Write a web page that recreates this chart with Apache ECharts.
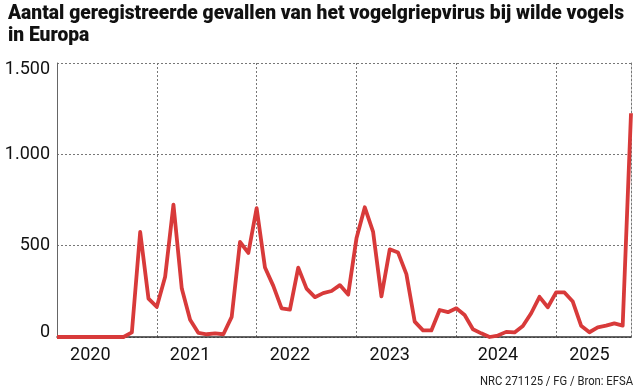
<!DOCTYPE html>
<html>
<head>
<meta charset="utf-8">
<script src="https://cdn.jsdelivr.net/npm/echarts@6/dist/echarts.min.js"></script>
<style>html,body{margin:0;padding:0;background:#fff;}#c{width:640px;height:392px;}</style>
</head>
<body>
<div id="c"></div>
<script>
// Monthly cases, Jan 2020 .. Oct 2025
const months = [];
for (let y = 2020; y <= 2025; y++) for (let m = 1; m <= 12; m++) months.push(y + '-' + (m < 10 ? '0' + m : m));
const categories = months.slice(0, 70);
const values = [
  0, 0, 0, 0, 0, 0, 0, 0, 0, 25, 575, 210,
  165, 330, 725, 265, 95, 22, 15, 20, 15, 110, 520, 460,
  705, 380, 280, 157, 150, 380, 265, 218, 240, 252, 284, 232,
  540, 710, 575, 222, 480, 462, 344, 84, 36, 36, 148, 136,
  157, 120, 42, 20, 0, 8, 28, 25, 60, 130, 220, 163,
  244, 244, 194, 62, 26, 53, 62, 75, 62, 1225
];
const yearLabelIdx = [4, 16, 28, 40, 53, 64];
const yTicks = [0, 500, 1000, 1500];
const yTickText = ['0', '500', '1.000', '1.500'];
const titleLine1 = 'Aantal geregistreerde gevallen van het vogelgriepvirus bij wilde vogels';
const titleLine2 = 'in Europa';
const footer = 'NRC 271125 / FG / Bron: EFSA';

const cv = document.createElement('canvas').getContext('2d');
function measure(font, s) { cv.font = font; return cv.measureText(s).width; }
const titleFont = "900 21px Roboto";
const titleScale = 616 / measure(titleFont, titleLine1);
const footFont = "13px Roboto";
const footScale = 153 / measure(footFont, footer);

const chart = echarts.init(document.getElementById('c'), null, {renderer: 'canvas'});
const labelFont = "Roboto, 'Noto Sans', sans-serif";
chart.setOption({
  animation: false,
  backgroundColor: '#fff',
  graphic: [{
    type: 'text', x: 8, y: 3, scaleX: titleScale,
    style: {text: titleLine1 + '\n' + titleLine2, font: titleFont, lineHeight: 22, fill: '#111', textVerticalAlign: 'top'}
  }, {
    type: 'text', x: 633, y: 382, scaleX: footScale,
    style: {text: footer, font: footFont, fill: '#222', textAlign: 'right', textVerticalAlign: 'middle'}
  }],
  grid: {left: 57, right: 9, top: 63, bottom: 55, containLabel: false},
  xAxis: {
    type: 'category', data: categories, boundaryGap: false,
    axisLine: {show: true, lineStyle: {color: '#333', width: 1.5}},
    axisTick: {show: false},
    axisLabel: {
      interval: (i) => yearLabelIdx.indexOf(i) >= 0,
      formatter: (v) => v.slice(0, 4),
      fontFamily: labelFont, fontSize: 18, color: '#111', margin: 9
    },
    splitLine: {show: true, interval: (i) => i > 0 && i % 12 === 0, lineStyle: {color: '#777', type: [2, 2], width: 1}}
  },
  yAxis: [{
    type: 'value', min: 0, max: 1500, interval: 500,
    axisLine: {show: true, lineStyle: {color: '#666', width: 1}},
    axisTick: {show: false},
    axisLabel: {
      fontFamily: labelFont, fontSize: 18, color: '#111', margin: 7,
      formatter: (v) => {
        const t = yTickText[yTicks.indexOf(v)];
        if (v === 1500) return '{top|' + t + '}';
        if (v === 0) return '{bot|' + t + '}';
        return t;
      },
      rich: {
        top: {fontFamily: labelFont, fontSize: 18, color: '#111', padding: [12, 0, 0, 0]},
        bot: {fontFamily: labelFont, fontSize: 18, color: '#111', padding: [0, 0, 10, 0]}
      }
    },
    splitLine: {show: true, lineStyle: {color: '#777', type: [2, 2], width: 1}}
  }, {
    type: 'value', min: 0, max: 1500, interval: 500, position: 'right',
    axisLine: {show: true, lineStyle: {color: '#777', type: [2, 2], width: 1}},
    axisTick: {show: false}, axisLabel: {show: false}, splitLine: {show: false}
  }],
  series: [{
    type: 'line', data: values, yAxisIndex: 0,
    symbol: 'none', smooth: false,
    lineStyle: {color: '#d83a3a', width: 3.8, join: 'round'}
  }]
});
</script>
</body>
</html>
